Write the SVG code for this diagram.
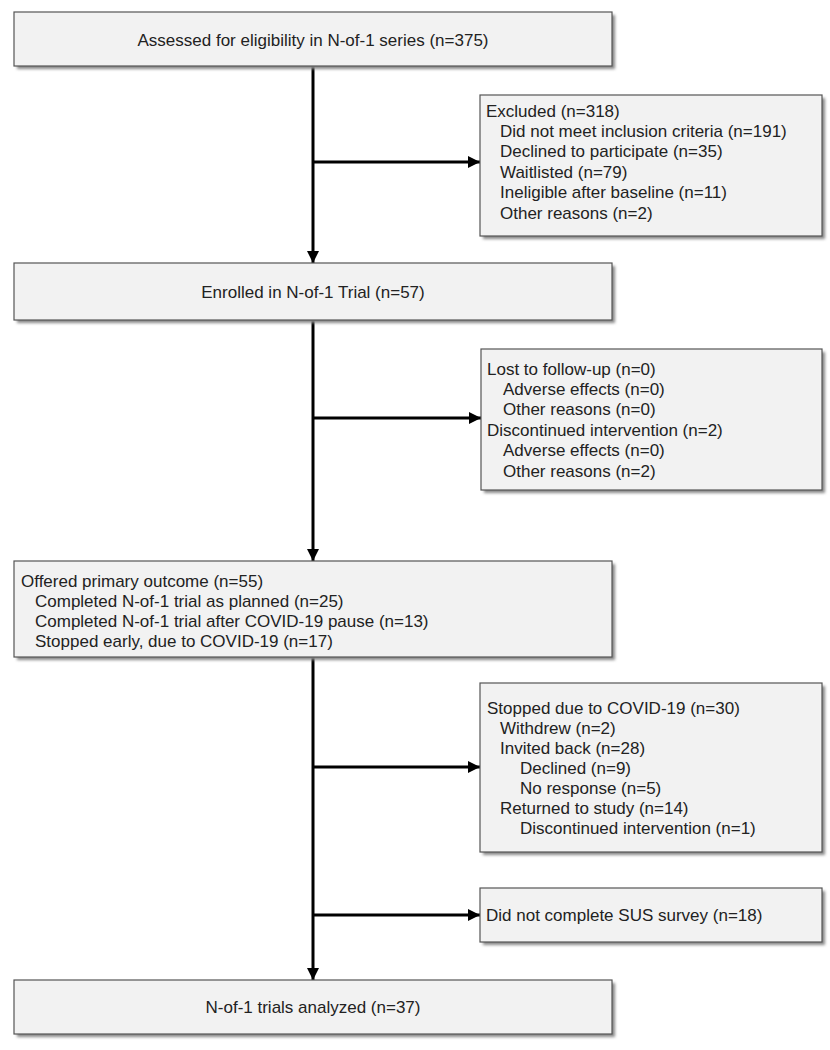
<svg xmlns="http://www.w3.org/2000/svg" width="830" height="1050" viewBox="0 0 830 1050">
<style>
.box{fill:#f2f2f2;stroke:#555;stroke-width:1.2}
.shadow{fill:#888;filter:url(#blur)}
.t{font-family:"Liberation Sans",Arial,sans-serif;font-size:17px;fill:#222;dominant-baseline:central}
.c{text-anchor:middle}
.ln{stroke:#000;stroke-width:3;fill:none;marker-end:url(#arr)}
</style>
<defs>
<filter id="blur" x="-5%" y="-20%" width="110%" height="140%"><feGaussianBlur stdDeviation="1.5"/></filter>
<marker id="arr" viewBox="0 0 12 12" refX="12" refY="6" markerWidth="12" markerHeight="12" markerUnits="userSpaceOnUse" orient="auto"><path d="M0,0 L12,6 L0,12 z" fill="#000"/></marker>
</defs>
<rect width="830" height="1050" fill="#fff"/>
<g id="connectors">
<path class="ln" d="M313,66 V263"/>
<path class="ln" d="M313,162 H480"/>
<path class="ln" d="M313,320 V561"/>
<path class="ln" d="M313,418 H481"/>
<path class="ln" d="M313,657 V980"/>
<path class="ln" d="M313,767 H480"/>
<path class="ln" d="M313,915 H480"/>
</g>
<g id="assessed">
<rect class="shadow" x="17" y="15" width="598" height="54"/>
<rect class="box" x="14" y="12" width="598" height="54"/>
<text class="t c" x="313" y="40">Assessed for eligibility in N-of-1 series (n=375)</text>
</g>
<g id="excluded">
<rect class="shadow" x="483" y="98" width="342" height="141"/>
<rect class="box" x="480" y="95" width="342" height="141"/>
<text class="t" x="486" y="111">Excluded (n=318)</text>
<text class="t" x="500" y="131.4">Did not meet inclusion criteria (n=191)</text>
<text class="t" x="500" y="151.8">Declined to participate (n=35)</text>
<text class="t" x="500" y="172.2">Waitlisted (n=79)</text>
<text class="t" x="500" y="192.6">Ineligible after baseline (n=11)</text>
<text class="t" x="500" y="213">Other reasons (n=2)</text>
</g>
<g id="enrolled">
<rect class="shadow" x="17" y="266" width="598" height="57"/>
<rect class="box" x="14" y="263" width="598" height="57"/>
<text class="t c" x="313" y="292">Enrolled in N-of-1 Trial (n=57)</text>
</g>
<g id="lost">
<rect class="shadow" x="484" y="352" width="341" height="141"/>
<rect class="box" x="481" y="349" width="341" height="141"/>
<text class="t" x="487" y="369">Lost to follow-up (n=0)</text>
<text class="t" x="503" y="389.4">Adverse effects (n=0)</text>
<text class="t" x="503" y="409.8">Other reasons (n=0)</text>
<text class="t" x="487" y="430.2">Discontinued intervention (n=2)</text>
<text class="t" x="503" y="450.6">Adverse effects (n=0)</text>
<text class="t" x="503" y="471">Other reasons (n=2)</text>
</g>
<g id="offered">
<rect class="shadow" x="17" y="564" width="598" height="96"/>
<rect class="box" x="14" y="561" width="598" height="96"/>
<text class="t" x="21" y="581">Offered primary outcome (n=55)</text>
<text class="t" x="35" y="601">Completed N-of-1 trial as planned (n=25)</text>
<text class="t" x="35" y="621">Completed N-of-1 trial after COVID-19 pause (n=13)</text>
<text class="t" x="35" y="641">Stopped early, due to COVID-19 (n=17)</text>
</g>
<g id="stopped">
<rect class="shadow" x="483" y="686" width="342" height="169"/>
<rect class="box" x="480" y="683" width="342" height="169"/>
<text class="t" x="487" y="708">Stopped due to COVID-19 (n=30)</text>
<text class="t" x="500" y="728">Withdrew (n=2)</text>
<text class="t" x="500" y="748">Invited back (n=28)</text>
<text class="t" x="520" y="768">Declined (n=9)</text>
<text class="t" x="520" y="788">No response (n=5)</text>
<text class="t" x="500" y="808">Returned to study (n=14)</text>
<text class="t" x="520" y="828">Discontinued intervention (n=1)</text>
</g>
<g id="sus">
<rect class="shadow" x="483" y="891" width="342" height="54"/>
<rect class="box" x="480" y="888" width="342" height="54"/>
<text class="t" x="486" y="915">Did not complete SUS survey (n=18)</text>
</g>
<g id="analyzed">
<rect class="shadow" x="17" y="983" width="598" height="54"/>
<rect class="box" x="14" y="980" width="598" height="54"/>
<text class="t c" x="313" y="1007">N-of-1 trials analyzed (n=37)</text>
</g>
</svg>
